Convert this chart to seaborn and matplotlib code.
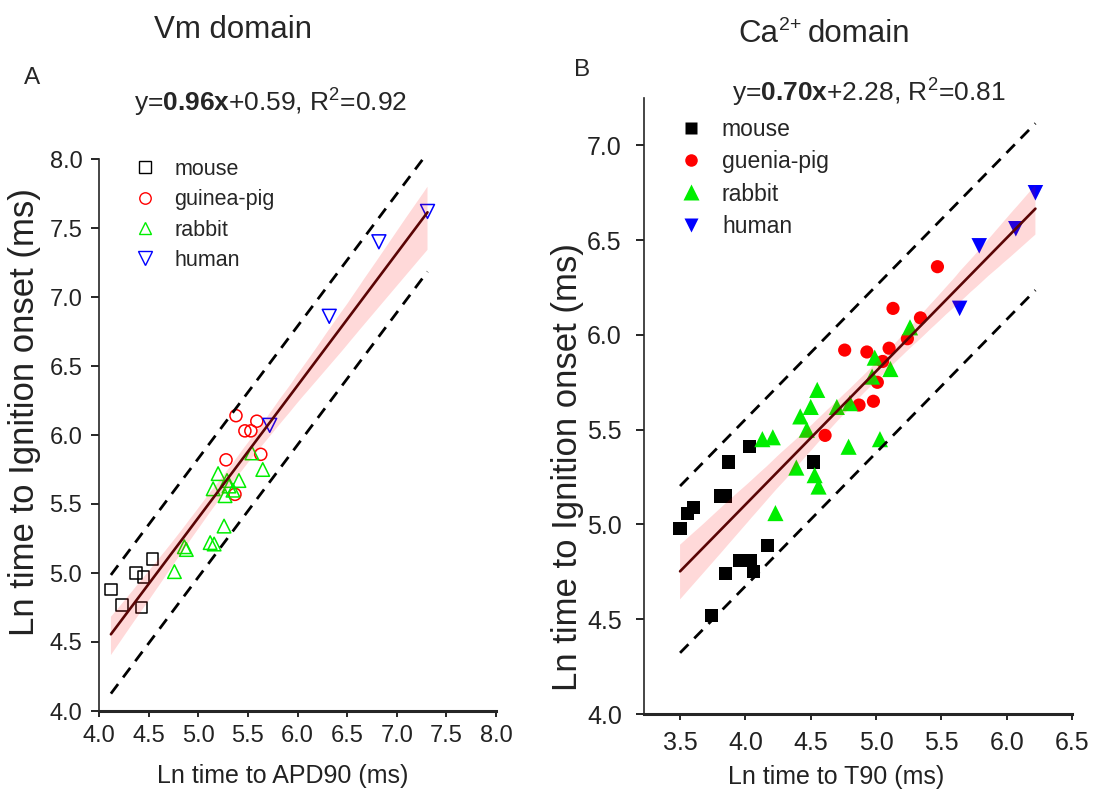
import numpy as np
import matplotlib
matplotlib.use("Agg")
import matplotlib.pyplot as plt
import seaborn as sns
from matplotlib.lines import Line2D

# ---------------- data ----------------
species_a = ["mouse", "guinea-pig", "rabbit", "human"]
species_b = ["mouse", "guenia-pig", "rabbit", "human"]

# Panel A: Vm domain  (Ln APD90 vs Ln time to ignition onset)
a_mouse_x = [4.12, 4.23, 4.43, 4.37, 4.45, 4.54]
a_mouse_y = [4.88, 4.77, 4.75, 5.00, 4.97, 5.10]
a_gp_x = [5.38, 5.47, 5.53, 5.59, 5.63, 5.28, 5.37]
a_gp_y = [6.14, 6.03, 6.03, 6.10, 5.86, 5.82, 5.57]
a_rabbit_x = [5.54, 5.65, 5.20, 5.29, 5.41, 5.15, 5.31, 5.27, 5.35, 5.26, 5.12, 5.16, 4.86, 4.88, 4.76]
a_rabbit_y = [5.87, 5.75, 5.72, 5.67, 5.67, 5.61, 5.63, 5.56, 5.60, 5.34, 5.22, 5.21, 5.19, 5.17, 5.01]
a_human_x = [7.31, 6.82, 6.32, 5.72]
a_human_y = [7.62, 7.40, 6.86, 6.07]

# Panel B: Ca2+ domain  (Ln T90 vs Ln time to ignition onset)
b_mouse_x = [4.03, 3.87, 3.81, 3.85, 3.60, 3.56, 3.50, 4.52, 4.17, 3.955, 4.04, 4.06, 3.85, 3.74]
b_mouse_y = [5.41, 5.33, 5.15, 5.15, 5.09, 5.06, 4.98, 5.33, 4.89, 4.81, 4.81, 4.75, 4.74, 4.52]
b_gp_x = [5.13, 5.34, 5.24, 4.76, 4.93, 5.10, 5.05, 5.01, 4.87, 4.98, 4.61, 5.47]
b_gp_y = [6.14, 6.09, 5.98, 5.92, 5.91, 5.93, 5.86, 5.75, 5.63, 5.65, 5.47, 6.36]
b_rabbit_x = [5.26, 4.99, 5.11, 4.97, 4.55, 4.50, 4.42, 4.70, 4.80, 4.47, 4.13, 4.21, 4.79, 5.03, 4.39, 4.53, 4.56, 4.23]
b_rabbit_y = [6.04, 5.88, 5.82, 5.78, 5.71, 5.62, 5.57, 5.62, 5.64, 5.50, 5.45, 5.46, 5.41, 5.45, 5.30, 5.26, 5.20, 5.06]
b_human_x = [6.22, 6.07, 5.79, 5.64]
b_human_y = [6.75, 6.56, 6.47, 6.14]

eq_a = ("0.96x", "+0.59, R", "=0.92")
eq_b = ("0.70x", "+2.28, R", "=0.81")

a_xticks = [4.0, 4.5, 5.0, 5.5, 6.0, 6.5, 7.0, 7.5, 8.0]
a_yticks = [4.0, 4.5, 5.0, 5.5, 6.0, 6.5, 7.0, 7.5, 8.0]
b_xticks = [3.5, 4.0, 4.5, 5.0, 5.5, 6.0, 6.5]
b_yticks = [4.0, 4.5, 5.0, 5.5, 6.0, 6.5, 7.0]

# ---------------- style ----------------
sns.set_style("ticks")
plt.rcParams["font.family"] = ["Liberation Sans", "DejaVu Sans"]
plt.rcParams["mathtext.fontset"] = "custom"
plt.rcParams["mathtext.rm"] = "Liberation Sans"
plt.rcParams["mathtext.bf"] = "Liberation Sans:bold"
plt.rcParams["mathtext.it"] = "Liberation Sans:italic"

colors = ["#000000", "#ff0000", "#00ee00", "#0000ff"]
markers = ["s", "o", "^", "v"]
sizes_a = [70, 75, 95, 100]
sizes_b = [90, 90, 135, 125]

W, H = 1094, 800
fig = plt.figure(figsize=(W / 100, H / 100), dpi=100)


def px_axes(l, t, r, b):
    return fig.add_axes([l / W, 1 - b / H, (r - l) / W, (b - t) / H])


axA = px_axes(99, 159, 496, 711)
axB = px_axes(644, 98, 1072, 714)


def draw_panel(ax, xs_list, ys_list, labels, sizes, filled, off, legend_anchor, legfs, ls):
    handles = []
    for xs, ys, lab, c, m, s in zip(xs_list, ys_list, labels, colors, markers, sizes):
        sns.scatterplot(x=xs, y=ys, ax=ax, marker=m, s=s, color=c, zorder=1)
        coll = ax.collections[-1]
        if filled:
            coll.set_facecolor(c)
            coll.set_edgecolor("none")
            coll.set_linewidth(0)
            handles.append(Line2D([], [], ls="", marker=m, markersize=np.sqrt(s) * 0.95,
                                  markerfacecolor=c, markeredgecolor="none", label=lab))
        else:
            coll.set_facecolor("none")
            coll.set_edgecolor(c)
            coll.set_linewidth(1.1)
            handles.append(Line2D([], [], ls="", marker=m, markersize=np.sqrt(s) * 0.95,
                                  markerfacecolor="none", markeredgecolor=c,
                                  markeredgewidth=1.0, label=lab))
    allx = np.concatenate([np.asarray(v, float) for v in xs_list])
    ally = np.concatenate([np.asarray(v, float) for v in ys_list])
    n0 = len(ax.collections)
    nl = len(ax.lines)
    sns.regplot(x=allx, y=ally, ax=ax, scatter=False, ci=95, seed=1, n_boot=1000,
                color="#ff0000", line_kws=dict(lw=1.9, zorder=3))
    for coll in ax.collections[n0:]:
        coll.set_facecolor((1.0, 0.0, 0.0, 0.09))
        coll.set_edgecolor("none")
        coll.set_zorder(2)
    for ln in ax.lines[nl:]:
        ln.set_color("#5a0505")
    slope, icpt = np.polyfit(allx, ally, 1)
    xr = np.array([allx.min(), allx.max()])
    for o in off:
        ax.plot(xr, slope * xr + icpt + o, color="black", lw=2.0,
                ls=(0, (4.3, 3.0)), zorder=3)
    leg = ax.legend(handles=handles, loc="upper left", bbox_to_anchor=legend_anchor,
                    frameon=False, fontsize=legfs, handlelength=1.0, handletextpad=0.85,
                    labelspacing=ls, borderpad=0, borderaxespad=0)
    for t in leg.get_texts():
        t.set_color("#262626")


draw_panel(axA, [a_mouse_x, a_gp_x, a_rabbit_x, a_human_x],
           [a_mouse_y, a_gp_y, a_rabbit_y, a_human_y], species_a, sizes_a, False,
           (0.43, -0.43), (0.09, 1.0), 15.5, 0.43)
draw_panel(axB, [b_mouse_x, b_gp_x, b_rabbit_x, b_human_x],
           [b_mouse_y, b_gp_y, b_rabbit_y, b_human_y], species_b, sizes_b, True,
           (0.45, -0.43), (0.083, 0.968), 16.5, 0.41)

for ax, xt, yt, xl, yl in [(axA, a_xticks, a_yticks, (4.0, 8.0), (4.0, 8.0)),
                           (axB, b_xticks, b_yticks, (3.224, 6.5), (4.0, 7.25))]:
    ax.set_xlim(*xl)
    ax.set_ylim(*yl)
    ax.set_xticks(xt)
    ax.set_yticks(yt)
    ax.set_xticklabels([f"{v:.1f}" for v in xt])
    ax.set_yticklabels([f"{v:.1f}" for v in yt])
    sns.despine(ax=ax)
    ax.spines["bottom"].set_linewidth(2.2)
    ax.spines["left"].set_linewidth(1.2)
    ax.tick_params(axis="both", direction="out", width=1.2, colors="black")
    ax.tick_params(axis="y", length=6)
    ax.tick_params(axis="x", length=4)

axA.tick_params(axis="both", labelsize=17, labelcolor="#222222")
axA.tick_params(axis="y", pad=6)
axA.tick_params(axis="x", pad=6)
axB.tick_params(axis="both", labelsize=18, labelcolor="#222222")
axB.tick_params(axis="y", pad=10)
axB.tick_params(axis="x", pad=8)

axA.set_xlabel("Ln time to APD90 (ms)", fontsize=18, color="#222222")
axA.set_ylabel("Ln time to Ignition onset (ms)", fontsize=25, color="#222222")
axB.set_xlabel("Ln time to T90 (ms)", fontsize=18, color="#222222")
axB.set_ylabel("Ln time to Ignition onset (ms)", fontsize=25, color="#222222")
axA.xaxis.set_label_coords((283 - 99) / 397, (711 - 764) / 552)
axB.xaxis.set_label_coords((836 - 644) / 428, (714 - 765) / 616)
axA.yaxis.set_label_coords((41 - 99) / 397, (711 - 412) / 552)
axB.yaxis.set_label_coords((584 - 644) / 428, (714 - 467) / 616)


def ftext(x, y, s, ha="center", va="center", **kw):
    fig.text(x / W, 1 - y / H, s, ha=ha, va=va, **kw)


ftext(233, 30, "Vm domain", fontsize=22.5)
ftext(738, 42, "Ca", ha="left", va="baseline", fontsize=22.5)
ftext(779, 30, "2+", ha="left", va="baseline", fontsize=14)
ftext(808, 42, "domain", ha="left", va="baseline", fontsize=22.5)
ftext(32, 78, "A", fontsize=17.5)
ftext(582, 70, "B", fontsize=17.5)
ftext(271, 103, "y=$\\mathbf{" + eq_a[0] + "}$" + eq_a[1] + "$^{2}$" + eq_a[2], fontsize=19)
ftext(869, 93, "y=$\\mathbf{" + eq_b[0] + "}$" + eq_b[1] + "$^{2}$" + eq_b[2], fontsize=19)

fig.savefig("out.png", dpi=100)
